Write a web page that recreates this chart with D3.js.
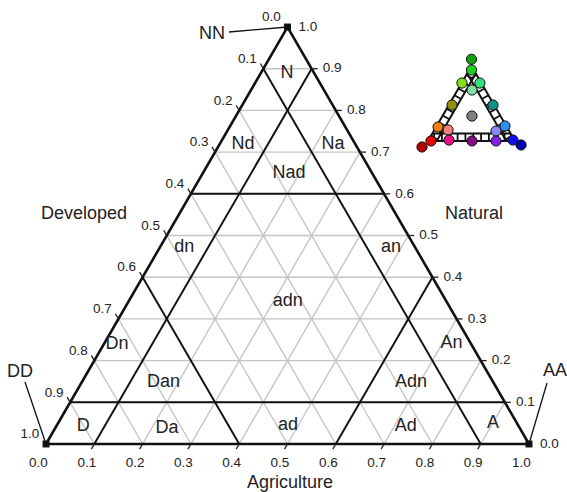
<!DOCTYPE html>
<html>
<head>
<meta charset="utf-8">
<script src="https://cdn.jsdelivr.net/npm/d3@7"></script>
<style>
  body { margin: 0; background: #fff; }
  text { font-family: "Liberation Sans", Arial, sans-serif; fill: #222; }
</style>
</head>
<body>
<div id="my_dataviz"></div>
<script>
// axis ticks (same for all three sides)
const tickVals = [0, 0.1, 0.2, 0.3, 0.4, 0.5, 0.6, 0.7, 0.8, 0.9, 1.0];
const tickLabels = ["0.0", "0.1", "0.2", "0.3", "0.4", "0.5", "0.6", "0.7", "0.8", "0.9", "1.0"];
// light grid every 0.1, heavy class breaks at 0.1 and 0.6
const gridVals = [0.1, 0.2, 0.3, 0.4, 0.5, 0.6, 0.7, 0.8, 0.9];
const classBreaks = [0.1, 0.6];

// class labels inside the triangle, [agriculture, natural]
const regionNames = ["N", "Nd", "Na", "Nad", "dn", "an", "adn", "Dn", "An", "Dan", "Adn", "D", "Da", "ad", "Ad", "A"];
const regionA = [0.053, 0.047, 0.233, 0.177, 0.049, 0.477, 0.328, 0.026, 0.717, 0.168, 0.680, 0.054, 0.230, 0.477, 0.722, 0.899];
const regionN = [0.892, 0.722, 0.722, 0.652, 0.475, 0.475, 0.345, 0.242, 0.245, 0.151, 0.151, 0.046, 0.041, 0.048, 0.046, 0.053];

// colour key (small triangle), schematic positions [agriculture, natural]
const keyNames  = ["NN", "N", "Nd", "Na", "Nad", "dn", "an", "adn", "Dn", "An", "Dan", "Adn", "D", "Da", "ad", "Ad", "A", "DD", "AA"];
const keyColors = ["#10a010", "#20d020", "#80e020", "#30e080", "#80e0a0", "#909010", "#109090", "#808080", "#f08010", "#3090f0",
                   "#f08080", "#8888f8", "#ee0000", "#e8108a", "#801080", "#8020e8", "#1010f0", "#b00000", "#0000b0"];
const keyA = [-0.045, 0.026, 0.004, 0.210, 0.166, 0.036, 0.507, 0.339, 0.022, 0.785, 0.157, 0.715, 0.034, 0.235, 0.506, 0.782, 0.970, -0.029, 1.096];
const keyN = [1.090, 0.947, 0.773, 0.773, 0.680, 0.480, 0.480, 0.333, 0.187, 0.200, 0.147, 0.133, 0.000, 0.013, 0.000, 0.000, 0.013, -0.080, -0.053];

const width = 567, height = 492;

const svg = d3.select("#my_dataviz")
  .append("svg")
  .attr("width", width)
  .attr("height", height);

// ternary -> screen: x from (a + n/2), y from n
const x = d3.scaleLinear().domain([0, 1]).range([46, 529]);
const y = d3.scaleLinear().domain([0, 1]).range([444, 27]);
const pt = (a, n) => [x(a + n / 2), y(n)];

const line = d3.line();

function segN(v) { return [pt(0, v), pt(1 - v, v)]; }        // natural constant
function segA(v) { return [pt(v, 0), pt(v, 1 - v)]; }        // agriculture constant
function segD(v) { return [pt(1 - v, 0), pt(0, 1 - v)]; }    // developed constant

// gray grid
const grid = svg.append("g")
  .attr("stroke", "#c4c4c4")
  .attr("stroke-width", 1.4)
  .attr("fill", "none");
gridVals.forEach(v => {
  grid.append("path").attr("d", line(segN(v)));
  grid.append("path").attr("d", line(segA(v)));
  grid.append("path").attr("d", line(segD(v)));
});

// class break lines
const breaks = svg.append("g")
  .attr("stroke", "#111")
  .attr("stroke-width", 1.9)
  .attr("fill", "none");
classBreaks.forEach(v => {
  breaks.append("path").attr("d", line(segN(v)));
  breaks.append("path").attr("d", line(segA(v)));
  breaks.append("path").attr("d", line(segD(v)));
});

// outer triangle
svg.append("path")
  .attr("d", line([pt(0, 0), pt(1, 0), pt(0, 1)]) + "Z")
  .attr("fill", "none")
  .attr("stroke", "#111")
  .attr("stroke-width", 2.6)
  .attr("stroke-linejoin", "miter");

// ticks
const t = 6 / 483;
const ticks = svg.append("g").attr("stroke", "#222").attr("stroke-width", 1.3);
gridVals.forEach(v => {
  // bottom: agriculture
  ticks.append("path").attr("d", line([pt(v, 0), pt(v, -t)]));
  // left: developed
  ticks.append("path").attr("d", line([pt(0, 1 - v), pt(-t, 1 - v + t)]));
  // right: natural
  ticks.append("path").attr("d", line([pt(1 - v, v), pt(1 - v + t, v)]));
});

// tick labels
const tl = svg.append("g").style("font-size", "13.5px").attr("text-anchor", "middle");
tickVals.forEach((v, i) => {
  let p = pt(v, 0);
  tl.append("text").attr("x", p[0] - 7.5).attr("y", p[1] + 18).attr("dy", "0.35em").text(tickLabels[i]);
  p = pt(0, 1 - v);
  tl.append("text").attr("x", p[0] - 16).attr("y", p[1] - 10.5).attr("dy", "0.35em").text(tickLabels[i]);
  p = pt(1 - v, v);
  tl.append("text").attr("x", p[0] + 20.5).attr("y", p[1] - 1).attr("dy", "0.35em").text(tickLabels[i]);
});

// corner markers
svg.append("g").selectAll("path")
  .data([pt(0, 0), pt(1, 0), pt(0, 1)])
  .join("path")
  .attr("transform", d => `translate(${d[0]},${d[1]})`)
  .attr("d", d3.symbol(d3.symbolSquare, 48))
  .attr("fill", "#111");

// axis titles
const big = svg.append("g").style("font-size", "18px").attr("text-anchor", "middle");
big.append("text").attr("x", 290).attr("y", 482).attr("dy", "0.35em").text("Agriculture");
big.append("text").attr("x", 84).attr("y", 213).attr("dy", "0.35em").text("Developed");
big.append("text").attr("x", 474).attr("y", 213).attr("dy", "0.35em").text("Natural");

// vertex callouts
big.append("text").attr("x", 212).attr("y", 33).attr("dy", "0.35em").text("NN");
big.append("text").attr("x", 20).attr("y", 371).attr("dy", "0.35em").text("DD");
big.append("text").attr("x", 543).attr("y", 370).attr("dy", "0.35em").attr("text-anchor", "start").text("AA");
const callouts = svg.append("g").attr("stroke", "#111").attr("stroke-width", 1.3);
callouts.append("path").attr("d", line([[229, 32], pt(0, 1)]));
callouts.append("path").attr("d", line([[25, 382], pt(0, 0)]));
callouts.append("path").attr("d", line([[547, 383], pt(1, 0)]));

// region labels
svg.append("g").style("font-size", "18px").attr("text-anchor", "middle")
  .selectAll("text")
  .data(regionNames)
  .join("text")
  .attr("x", (d, i) => pt(regionA[i], regionN[i])[0])
  .attr("y", (d, i) => pt(regionA[i], regionN[i])[1])
  .attr("dy", "0.35em")
  .text(d => d);

// ---- colour key ----
const kx = d3.scaleLinear().domain([0, 1]).range([428, 515]);
const ky = d3.scaleLinear().domain([0, 1]).range([141, 66]);
const kp = (a, n) => [kx(a + n / 2), ky(n)];
const key = svg.append("g");
const f = 0.1;

// hatch rungs inside the edge bands
const rungs = key.append("g").attr("stroke", "#111").attr("stroke-width", 1.8);
d3.range(0.07, 0.95, 0.09).forEach(v => {
  rungs.append("path").attr("d", line([kp(v, 0), kp(v - f / 2, f)]));                 // bottom band
  rungs.append("path").attr("d", line([kp(0, v), kp(f, v - f / 2)]));                 // left band
  rungs.append("path").attr("d", line([kp(1 - v, v), kp(1 - v - f / 2, v - f / 2)])); // right band
});
const kl = key.append("g").attr("stroke", "#111").attr("stroke-width", 2).attr("fill", "none");
kl.append("path").attr("d", line([kp(0, 0), kp(1, 0), kp(0, 1)]) + "Z");
kl.append("path").attr("d", line([kp(0, f), kp(1 - f, f)]));
kl.append("path").attr("d", line([kp(f, 0), kp(f, 1 - f)]));
kl.append("path").attr("d", line([kp(1 - f, 0), kp(0, 1 - f)]));

key.append("g").selectAll("circle")
  .data(keyNames)
  .join("circle")
  .attr("cx", (d, i) => kp(keyA[i], keyN[i])[0])
  .attr("cy", (d, i) => kp(keyA[i], keyN[i])[1])
  .attr("r", 5.1)
  .attr("fill", (d, i) => keyColors[i])
  .attr("stroke", "#111")
  .attr("stroke-width", 1);
</script>
</body>
</html>
